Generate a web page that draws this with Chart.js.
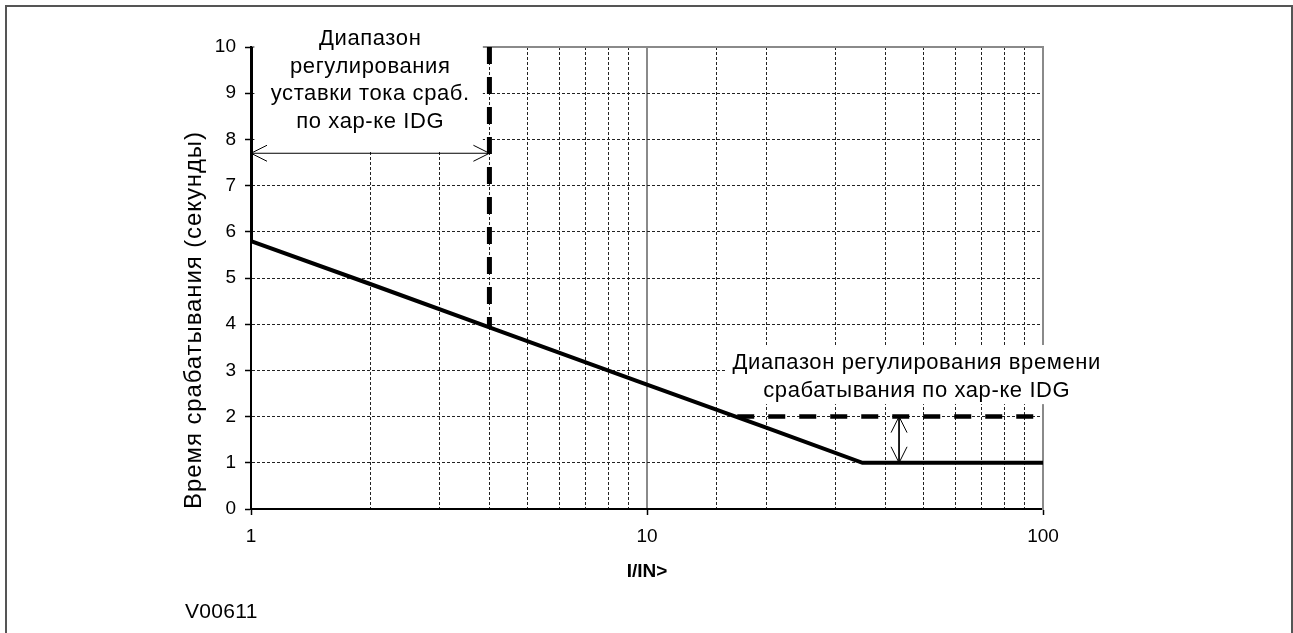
<!DOCTYPE html>
<html>
<head>
<meta charset="utf-8">
<script src="https://cdn.jsdelivr.net/npm/chart.js@4"></script>
<style>
  html, body { margin: 0; padding: 0; background: #fff; }
  #wrap  { position: relative; width: 1293px; height: 633px; overflow: hidden; }
  #frame { position: absolute; left: 5px; top: 5px; width: 1284px; height: 700px;
           border: 2px solid #555; pointer-events: none; }
</style>
</head>
<body>
<div id="wrap">
  <canvas id="c" width="1293" height="633"></canvas>
  <div id="frame"></div>
</div>
<script>
// ── data ──────────────────────────────────────────────────────────────────────
const curveX   = [1, 1, 2, 4, 10, 20, 35, 100]      // IDG characteristic
const curveY   = [10, 5.8, 4.87, 3.93, 2.69, 1.76, 1.0, 1.0]
const settingX = [4, 4]                              // current setting limit
const settingY = [10, 3.93]
const timeX    = [16.9, 100]                         // time setting limit
const timeY    = [2, 2]
const arrowIX  = [1, 4]
const arrowIY  = [7.7, 7.7]
const arrowTX  = [43.3, 43.3]
const arrowTY  = [2, 1]
const xLabels  = [1, 10, 100]
const yMin = 0, yMax = 10, yStep = 1
const xMin = 1, xMax = 100

const yTitle = 'Время срабатывания (секунды)'
const xTitle = 'I/IN>'
const figId  = 'V00611'
const note1  = ['Диапазон', 'регулирования', 'уставки тока сраб.', 'по хар-ке IDG']
const note2  = ['Диапазон регулирования времени', 'срабатывания по хар-ке IDG']

// ── annotation layout (data units) ────────────────────────────────────────────
const NOTES = [
  { lines: note1, cx: 2.0,  top: 10.17, box: [1.02, 3.85, 10.7, 7.75] },
  { lines: note2, cx: 48,   top: 3.16,  box: [15.9, 143,  3.55, 2.27] },
]
const FONT = 'Liberation Sans, Arial, sans-serif'
const xy = (xs, ys) => xs.map((v, i) => ({ x: v, y: ys[i] }))
const GRID_DASH = '#222'

Chart.register({
  id: 'notes',
  beforeDatasetsDraw(chart) {
    const { ctx, scales: { x, y } } = chart
    ctx.save()
    ctx.fillStyle = '#fff'
    for (const n of NOTES) {
      const x1 = x.getPixelForValue(n.box[0]), x2 = x.getPixelForValue(n.box[1])
      const y1 = y.getPixelForValue(n.box[2]), y2 = y.getPixelForValue(n.box[3])
      ctx.fillRect(x1, y1, x2 - x1, y2 - y1)
    }
    ctx.restore()
  },
  afterDatasetsDraw(chart) {
    const { ctx, scales: { x, y } } = chart
    ctx.save()
    // open arrowheads at both ends of arrow datasets
    ctx.strokeStyle = '#000'
    ctx.lineWidth = 1
    chart.data.datasets.forEach((ds, di) => {
      if (!ds._arrow) return
      const pts = chart.getDatasetMeta(di).data
      const a = pts[0], b = pts[pts.length - 1]
      ctx.beginPath()
      head(ctx, b, a, 16, 8)
      head(ctx, a, b, 16, 8)
      ctx.stroke()
    })
    // note texts
    ctx.fillStyle = '#000'
    ctx.font = `22px ${FONT}`
    ctx.letterSpacing = '0.6px'
    ctx.textAlign = 'center'
    ctx.textBaseline = 'middle'
    for (const n of NOTES) {
      const cx = x.getPixelForValue(n.cx)
      const ty = y.getPixelForValue(n.top)
      n.lines.forEach((l, i) => ctx.fillText(l, cx, ty + i * 27.5))
    }
    // y axis title
    ctx.save()
    ctx.font = `24px ${FONT}`
    ctx.letterSpacing = '0.9px'
    ctx.translate(194, 320)
    ctx.rotate(-Math.PI / 2)
    ctx.fillText(yTitle, 0, 0)
    ctx.restore()
    // figure id
    ctx.font = `21px ${FONT}`
    ctx.letterSpacing = '0.3px'
    ctx.textAlign = 'left'
    ctx.fillText(figId, 185, 612)
    ctx.restore()
  }
})

function head(ctx, tip, from, len, half) {
  const dx = tip.x - from.x, dy = tip.y - from.y, d = Math.hypot(dx, dy) || 1
  const ux = dx / d, uy = dy / d
  const bx = tip.x - ux * len, by = tip.y - uy * len
  ctx.moveTo(bx - uy * half, by + ux * half)
  ctx.lineTo(tip.x, tip.y)
  ctx.lineTo(bx + uy * half, by - ux * half)
}

const lineDs = (data, extra) => ({
  data, showLine: true, pointRadius: 0, borderColor: '#000', fill: false,
  borderCapStyle: 'butt', borderJoinStyle: 'miter', ...extra,
})

new Chart(document.getElementById('c'), {
  type: 'scatter',
  data: {
    datasets: [
      lineDs(xy(settingX, settingY), { borderWidth: 5, borderDash: [17, 13] }),
      lineDs(xy(timeX, timeY),       { borderWidth: 4.5, borderDash: [17, 14] }),
      lineDs(xy(curveX, curveY),     { borderWidth: 4 }),
      lineDs(xy(arrowIX, arrowIY),   { borderWidth: 1, _arrow: true }),
      lineDs(xy(arrowTX, arrowTY),   { borderWidth: 1, _arrow: true }),
    ],
  },
  options: {
    responsive: false,
    animation: false,
    devicePixelRatio: 1,
    layout: { padding: { left: 0, top: 47, right: 250, bottom: 0 } },
    plugins: { legend: { display: false }, tooltip: { enabled: false } },
    scales: {
      x: {
        type: 'logarithmic', position: 'bottom', min: xMin, max: xMax,
        afterFit: s => { s.height = 124 },
        border: { display: true, color: '#000', width: 2, dash: [3, 2] },
        grid: {
          color: c => [1, 10, 100].includes(c.tick?.value) ? 'transparent' : GRID_DASH,
          lineWidth: 1,
          tickLength: 6, tickWidth: 1.5,
          tickColor: c => xLabels.includes(c.tick?.value) ? '#000' : 'transparent',
        },
        ticks: {
          autoSkip: false, maxRotation: 0, padding: 10, color: '#000',
          font: { family: FONT, size: 19 },
          callback: v => xLabels.includes(v) ? String(v) : '',
        },
        title: {
          display: true, text: xTitle, color: '#000',
          font: { family: FONT, size: 19, weight: 'bold' },
          padding: { top: 0, bottom: 50 },
        },
      },
      x10: {
        type: 'logarithmic', position: 'top', min: xMin, max: xMax,
        afterBuildTicks: s => { s.ticks = [{ value: 10 }] },
        afterFit: s => { s.height = 0 },
        border: { display: true, color: '#8a8a8a', width: 2 },
        grid: { color: '#8a8a8a', lineWidth: 2, drawTicks: false },
        ticks: { display: false },
      },
      y: {
        type: 'linear', position: 'left', min: yMin, max: yMax,
        afterFit: s => { s.width = 251 },
        border: { display: true, color: '#000', width: 2, dash: [3, 2] },
        grid: {
          color: c => (c.tick?.value === yMin || c.tick?.value === yMax) ? 'transparent' : GRID_DASH,
          lineWidth: 1,
          tickLength: 6, tickWidth: 1.5, tickColor: '#000',
        },
        ticks: {
          stepSize: yStep, padding: 9, color: '#000',
          font: { family: FONT, size: 19 },
        },
      },
      yR: {
        type: 'linear', position: 'right', min: yMin, max: yMax,
        afterFit: s => { s.width = 0 },
        border: { display: true, color: '#8a8a8a', width: 2 },
        grid: { display: false, drawTicks: false },
        ticks: { display: false },
      },
    },
  },
})
</script>
</body>
</html>
